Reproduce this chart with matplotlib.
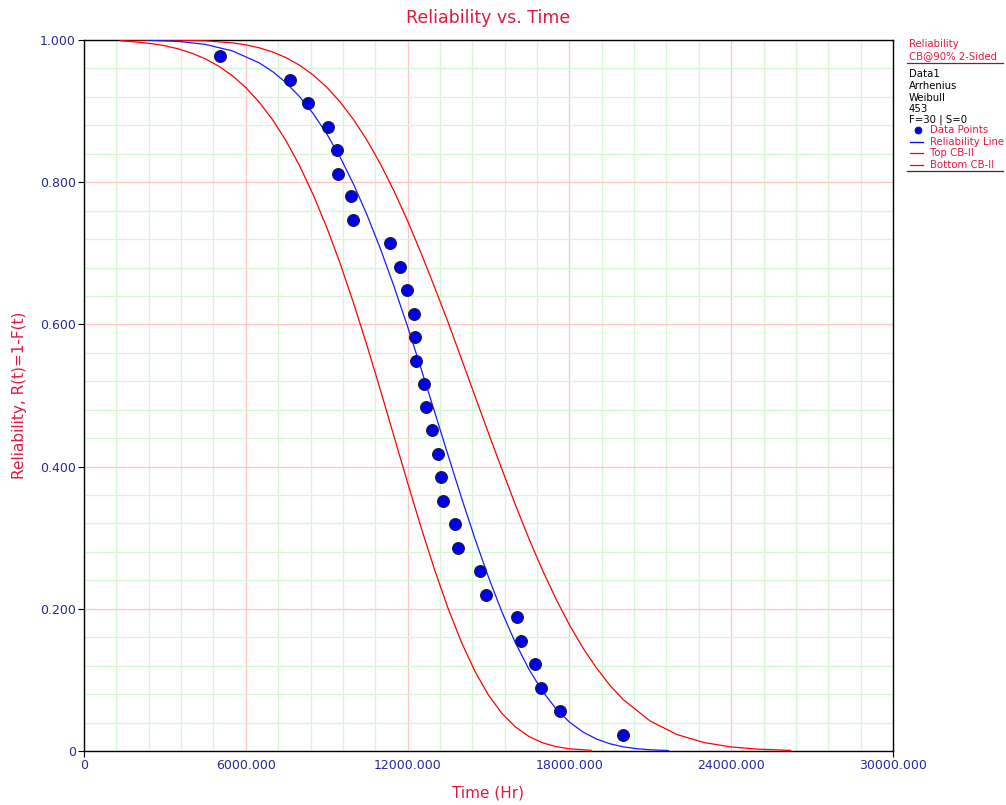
import matplotlib
matplotlib.use("Agg")
import matplotlib.pyplot as plt
from matplotlib.ticker import MultipleLocator, FixedLocator
from matplotlib.lines import Line2D

# ---- data ----
data_time = [5043, 7630, 8320, 9030, 9390, 9420, 9900, 9975, 11360, 11730,
             11990, 12220, 12280, 12310, 12590, 12690, 12920, 13130, 13240, 13310,
             13770, 13880, 14670, 14890, 16060, 16220, 16710, 16940, 17640, 19970]
data_rel = [0.977, 0.944, 0.911, 0.878, 0.845, 0.812, 0.780, 0.747, 0.714, 0.681,
            0.648, 0.615, 0.582, 0.549, 0.516, 0.484, 0.451, 0.418, 0.385, 0.352,
            0.319, 0.286, 0.253, 0.220, 0.188, 0.155, 0.122, 0.089, 0.056, 0.023]

# Reliability line (blue)
rel_time = [2350, 3500, 4500, 5500, 6500, 7000, 7500, 8000, 8500, 9000, 9500,
            10000, 10500, 11000, 11500, 12000, 12500, 13000, 13500, 14000, 14500,
            15000, 15500, 16000, 16500, 17000, 17500, 18000, 18500, 19000, 19500,
            20000, 20500, 21000, 21667]
rel_val = [0.9997, 0.9980, 0.9938, 0.9847, 0.9678, 0.9554, 0.9396, 0.9201, 0.8964, 0.8681, 0.8350,
           0.7968, 0.7535, 0.7055, 0.6530, 0.5968, 0.5377, 0.4771, 0.4161, 0.3560, 0.2983,
           0.2444, 0.1953, 0.1520, 0.1149, 0.0841, 0.0596, 0.0407, 0.0268, 0.0169, 0.0102,
           0.0058, 0.0032, 0.0017, 0.0006]

# Top CB-II (right red)
top_time = [1350, 2500, 3500, 4500, 5500, 6000, 6500, 7000, 7500, 8000, 8500,
            9000, 9500, 10000, 10500, 11000, 11500, 12000, 12500, 13000, 13500,
            14000, 14500, 15000, 15500, 16000, 16500, 17000, 17500, 18000, 18500,
            19000, 19500, 20000, 21000, 22000, 23000, 24000, 25000, 26200]
top_val = [1.0, 1.0, 0.9998, 0.9989, 0.9960, 0.9932, 0.9890, 0.9831, 0.9751, 0.9644, 0.9507,
           0.9336, 0.9127, 0.8878, 0.8586, 0.8251, 0.7873, 0.7455, 0.7002, 0.6524, 0.6031,
           0.5512, 0.4990, 0.4470, 0.3960, 0.3460, 0.2985, 0.2545, 0.2140, 0.1775, 0.1450,
           0.1170, 0.0925, 0.0722, 0.0420, 0.0230, 0.0118, 0.0057, 0.0026, 0.0009]

# Bottom CB-II (left red)
bot_time = [1350, 2000, 2500, 3000, 3500, 4000, 4500, 5000, 5500, 6000, 6500,
            7000, 7500, 8000, 8500, 9000, 9500, 10000, 10500, 11000, 11500,
            12000, 12500, 13000, 13500, 14000, 14500, 15000, 15500, 16000, 16500,
            17000, 17500, 18000, 18800]
bot_val = [0.9990, 0.9970, 0.9949, 0.9919, 0.9875, 0.9815, 0.9735, 0.9631, 0.9498, 0.9331, 0.9125,
           0.8875, 0.8577, 0.8227, 0.7823, 0.7365, 0.6855, 0.6295, 0.5696, 0.5066, 0.4420,
           0.3773, 0.3144, 0.2550, 0.2007, 0.1526, 0.1118, 0.0786, 0.0528, 0.0338, 0.0204,
           0.0116, 0.0062, 0.0031, 0.0010]

x_ticks = [0, 6000, 12000, 18000, 24000, 30000]
x_tick_labels = ["0", "6000.000", "12000.000", "18000.000", "24000.000", "30000.000"]
y_ticks = [0, 0.2, 0.4, 0.6, 0.8, 1.0]
y_tick_labels = ["0", "0.200", "0.400", "0.600", "0.800", "1.000"]

legend_header = ["Reliability", "CB@90% 2-Sided"]
legend_info = ["Data1", "Arrhenius", "Weibull", "453", "F=30 | S=0"]
legend_entries = ["Data Points", "Reliability Line", "Top CB-II", "Bottom CB-II"]

# ---- styling ----
W, H = 1006, 805
CRIMSON = "#e0193f"
NAVY = "#28289a"

fig = plt.figure(figsize=(W / 100, H / 100), dpi=100)
ax = fig.add_axes([84 / W, 1 - 751 / H, (893 - 84) / W, (751 - 40) / H])

def fpos(x, y):
    return x / W, 1 - y / H

ax.set_xlim(0, 30000)
ax.set_ylim(0, 1.0)
ax.xaxis.set_major_locator(FixedLocator(x_ticks))
ax.yaxis.set_major_locator(FixedLocator(y_ticks))
ax.xaxis.set_minor_locator(MultipleLocator(1200))
ax.yaxis.set_minor_locator(MultipleLocator(0.04))
ax.set_xticklabels(x_tick_labels)
ax.set_yticklabels(y_tick_labels)
ax.grid(which="minor", color="#d4f6d4", lw=0.9, zorder=0)
ax.grid(which="major", color="#ffc6c6", lw=0.9, zorder=0)
ax.set_axisbelow(True)
ax.tick_params(which="major", length=4, width=0.8, color="black", labelsize=9,
               labelcolor=NAVY, direction="out", pad=2)
ax.tick_params(which="minor", length=0)
xt = ax.xaxis.get_major_ticks()
for tk in xt[1:-1]:
    tk.tick1line.set_visible(False)
for s in ax.spines.values():
    s.set_color("black")
    s.set_linewidth(1.0)

ax.plot(top_time, top_val, color="red", lw=0.9, zorder=3)
ax.plot(bot_time, bot_val, color="red", lw=0.9, zorder=3)
ax.plot(rel_time, rel_val, color="#1a1aff", lw=0.9, zorder=3)
ax.plot(data_time, data_rel, "o", color="#0000ee", mec="#1a1a3a", mew=0.8, ms=8.5,
        zorder=4, clip_on=False)

# title and labels
fig.text(*fpos(488, 18), "Reliability vs. Time", color=CRIMSON, fontsize=12.5,
         ha="center", va="center")
fig.text(*fpos(488, 793), "Time (Hr)", color=CRIMSON, fontsize=11,
         ha="center", va="center")
fig.text(*fpos(20, 395), "Reliability, R(t)=1-F(t)", color=CRIMSON, fontsize=11,
         ha="center", va="center", rotation=90)

# legend panel
fs = 7.3
fig.text(*fpos(909, 44), legend_header[0], color=CRIMSON, fontsize=fs, va="center", ha="left")
fig.text(*fpos(909, 56), legend_header[1], color=CRIMSON, fontsize=fs, va="center", ha="left")
fig.add_artist(Line2D([907 / W, 1003 / W], [1 - 63.5 / H] * 2, color="#802030", lw=0.9))
info_y = [74, 86, 98, 109, 120]
for t, y in zip(legend_info, info_y):
    fig.text(*fpos(909, y), t, color="black", fontsize=fs, va="center", ha="left")
entry_y = [130, 142, 153.5, 165]
for t, y in zip(legend_entries, entry_y):
    fig.text(*fpos(930, y), t, color=CRIMSON, fontsize=fs, va="center", ha="left")
fig.add_artist(Line2D([918 / W], [1 - 130 / H], marker="o", color="#0000ee", ms=5,
                      mec="#1a1a3a", mew=0.6, ls="none"))
for y, c in zip(entry_y[1:], ["blue", "red", "red"]):
    fig.add_artist(Line2D([910 / W, 923 / W], [1 - y / H] * 2, color=c, lw=0.9))
fig.add_artist(Line2D([907 / W, 1003 / W], [1 - 171.5 / H] * 2, color="#303030", lw=0.9))

fig.savefig("out.png", dpi=100)
